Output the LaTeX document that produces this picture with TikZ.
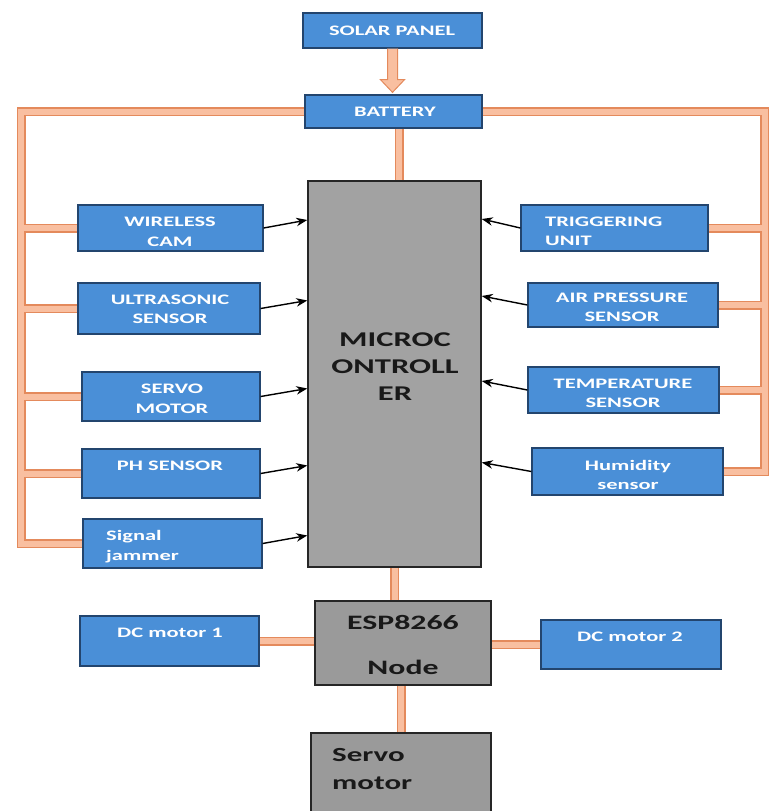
\documentclass[tikz,border=0pt]{standalone}
\usepackage{fontspec}
\setmainfont{Carlito}[FakeStretch=1.55]
\usetikzlibrary{calc,arrows.meta,backgrounds}
\definecolor{bfill}{HTML}{4A8FD7}
\definecolor{bborder}{HTML}{23456E}
\definecolor{gfill}{HTML}{A2A2A2}
\definecolor{gfilltwo}{HTML}{9A9A9A}
\definecolor{odark}{HTML}{E48A5C}
\definecolor{olight}{HTML}{F9BFA0}
\tikzset{
  bbox/.style={draw=bborder, fill=bfill, line width=1.3pt, inner sep=0pt},
  gbox/.style={draw=black!85, fill=gfill, line width=1.5pt, inner sep=0pt},
  wt/.style={text=white, font=\bfseries\fontsize{14.5}{19.5}\selectfont, align=center, inner sep=0pt},
  bt/.style={text=black!90, font=\bfseries\fontsize{21}{27}\selectfont, align=center, inner sep=0pt},
  sig/.style={-{Stealth[length=11pt,width=8.5pt]}, line width=1.4pt, black},
  arrowfill/.style={draw=odark, fill=olight, line width=1pt, line join=miter},
}
\begin{document}
\begin{tikzpicture}[x=1pt,y=-1pt]
\useasboundingbox (0,0) rectangle (769,811);
\clip (0,0) rectangle (769,811);
\coordinate (L) at (21,0);
\coordinate (R) at (764.5,0);
% boxes
\node[bbox, minimum width=179pt, minimum height=35pt] (solar) at (392.5,30.5) {};
\node[bbox, minimum width=177pt, minimum height=33pt] (bat) at (393.5,111.5) {};
\node[gbox, minimum width=173pt, minimum height=386pt] (mc) at (394.5,374) {};
\node[bbox, minimum width=185pt, minimum height=46pt] (wc) at (170.5,228) {};
\node[bbox, minimum width=182pt, minimum height=51pt] (us) at (169,308.5) {};
\node[bbox, minimum width=178pt, minimum height=49pt] (sm) at (171,396.5) {};
\node[bbox, minimum width=178pt, minimum height=49pt] (ph) at (171,473.5) {};
\node[bbox, minimum width=179pt, minimum height=49pt] (sj) at (172.5,543.5) {};
\node[bbox, minimum width=187pt, minimum height=46pt] (tu) at (614.5,228) {};
\node[bbox, minimum width=190pt, minimum height=44pt] (ap) at (623,305) {};
\node[bbox, minimum width=191pt, minimum height=46pt] (ts) at (623.5,390) {};
\node[bbox, minimum width=191pt, minimum height=47pt] (hs) at (627.5,471.5) {};
\node[gbox, fill=gfilltwo, minimum width=176pt, minimum height=84pt] (esp) at (403,643) {};
\node[bbox, minimum width=179pt, minimum height=50pt] (dc1) at (169.5,641) {};
\node[bbox, minimum width=180pt, minimum height=49pt] (dc2) at (631,644.5) {};
\node[gbox, fill=gfilltwo, minimum width=180pt, minimum height=82pt] (sv) at (401,774) {};
% texts
\node[wt] at (392,31) {SOLAR PANEL};
\node[wt] at (395,112) {BATTERY};
\begin{scope}
\clip (wc.south west) rectangle (wc.north east);
\node[wt] at (170,232) {WIRELESS\\CAM};
\end{scope}
\node[wt] at (170,309.5) {ULTRASONIC\\SENSOR};
\node[wt] at (172,399) {SERVO\\MOTOR};
\node[wt] at (170,466) {PH SENSOR};
\node[wt, align=left, anchor=west] at (106,546.5) {Signal\\jammer};
\begin{scope}
\clip (tu.south west) rectangle (tu.north east);
\node[wt, align=left, anchor=west] at (545,231.5) {TRIGGERING\\UNIT};
\end{scope}
\begin{scope}
\clip (ap.south west) rectangle (ap.north east);
\node[wt] at (622,307.5) {AIR PRESSURE\\SENSOR};
\end{scope}
\begin{scope}
\clip (ts.south west) rectangle (ts.north east);
\node[wt] at (623,393.5) {TEMPERATURE\\SENSOR};
\end{scope}
\node[wt] at (628,475) {Humidity\\sensor};
\node[bt] at (395,367) {MICROC\\ONTROLL\\ER};
\node[bt, font=\bfseries\fontsize{20.5}{45}\selectfont] at (403,644.5) {ESP8266\\Node};
\node[wt] at (170,633) {DC motor 1};
\node[wt] at (630,637) {DC motor 2};
\node[bt, font=\bfseries\fontsize{20}{28}\selectfont, align=left, anchor=west] at (332,769) {Servo\\motor};
% signal arrows
\draw[sig] (wc.east) -- ([yshift=8pt]wc.east -| mc.west);
\draw[sig] (us.east) -- ([yshift=8pt]us.east -| mc.west);
\draw[sig] (sm.east) -- ([yshift=8pt]sm.east -| mc.west);
\draw[sig] (ph.east) -- ([yshift=8pt]ph.east -| mc.west);
\draw[sig] (sj.east) -- ([yshift=8pt]sj.east -| mc.west);
\draw[sig] (tu.west) -- ([yshift=9pt]tu.west -| mc.east);
\draw[sig] (ap.west) -- ([yshift=9pt]ap.west -| mc.east);
\draw[sig] (ts.west) -- ([yshift=9pt]ts.west -| mc.east);
\draw[sig] (hs.west) -- ([yshift=9pt]hs.west -| mc.east);
% solar to battery block arrow
\draw[arrowfill] ($(solar.south)+(-5,0)$) -- ($(solar.south)+(-5,31)$) -- ($(solar.south)+(-12,31)$)
  -- ($(solar.south |- bat.north)+(0,-2)$) -- ($(solar.south)+(12,31)$) -- ($(solar.south)+(5,31)$)
  -- ($(solar.south)+(5,0)$);
% power bars
\coordinate (bm) at (399,0);
\begin{pgfonlayer}{background}
\begin{scope}[overlay]
\clip (0,0) rectangle (769,811);
\fill[white] (0,0) rectangle (769,811);
\foreach \w/\c in {9pt/odark, 6pt/olight} {
  \draw[line width=\w, \c, line join=miter] (bat.west) -- (bat.west -| L) -- (sj.west -| L) -- (sj.west);
  \draw[line width=\w, \c] (wc.west) -- (wc.west -| L);
  \draw[line width=\w, \c] (us.west) -- (us.west -| L);
  \draw[line width=\w, \c] (sm.west) -- (sm.west -| L);
  \draw[line width=\w, \c] (ph.west) -- (ph.west -| L);
  \draw[line width=\w, \c, line join=miter] (bat.east) -- (bat.east -| R) -- (hs.east -| R) -- (hs.east);
  \draw[line width=\w, \c] (tu.east) -- (tu.east -| R);
  \draw[line width=\w, \c] (ap.east) -- (ap.east -| R);
  \draw[line width=\w, \c] (ts.east) -- (ts.east -| R);
  \draw[line width=\w, \c] (bat.south -| bm) -- (mc.north -| bm);
  \draw[line width=\w, \c] (mc.south) -- (mc.south |- esp.north);
  \draw[line width=\w, \c] (dc1.east) -- (dc1.east -| esp.west);
  \draw[line width=\w, \c] (esp.east |- dc2.west) -- (dc2.west);
  \draw[line width=\w, \c] (sv.north) -- (sv.north |- esp.south);
}
\end{scope}
\end{pgfonlayer}
\end{tikzpicture}
\end{document}
